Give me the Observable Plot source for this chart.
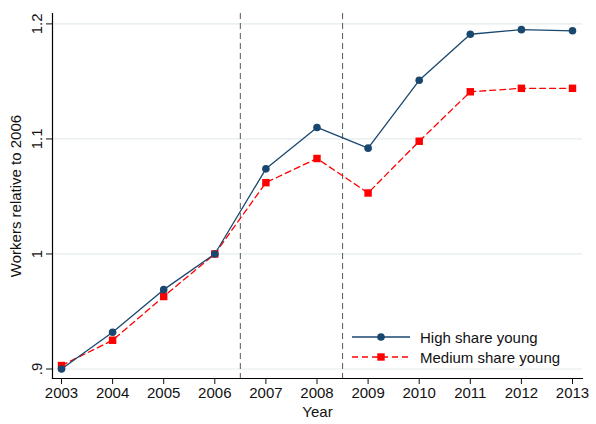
<!DOCTYPE html>
<html>
<head>
<meta charset="utf-8">
<script src="https://cdn.jsdelivr.net/npm/d3@7"></script>
<script src="https://cdn.jsdelivr.net/npm/@observablehq/plot@0.6"></script>
<style>
  body { margin: 0; background: #fff; }
  #chart { position: relative; width: 596px; height: 424px; font-family: "Liberation Sans", Arial, sans-serif; }
  .legend { position: absolute; left: 350px; top: 327px; font-size: 15px; color: #111; }
  .legend div { display: flex; align-items: center; height: 20px; }
  .legend svg { margin-right: 8px; }
</style>
</head>
<body>
<div id="chart"></div>
<script>
const years = [2003, 2004, 2005, 2006, 2007, 2008, 2009, 2010, 2011, 2012, 2013];
const highYoung = [0.900, 0.932, 0.969, 1.000, 1.074, 1.110, 1.092, 1.151, 1.191, 1.195, 1.194];
const mediumYoung = [0.903, 0.925, 0.963, 1.000, 1.062, 1.083, 1.053, 1.098, 1.141, 1.144, 1.144];
const yTicks = [0.9, 1, 1.1, 1.2];
const breaks = [2006.5, 2008.5];
const seriesNames = ["High share young", "Medium share young"];

const navy = "#1a476f";
const red = "#ff0000";

const high = years.map((y, i) => ({year: y, value: highYoung[i]}));
const medium = years.map((y, i) => ({year: y, value: mediumYoung[i]}));

const chart = Plot.plot({
  width: 596,
  height: 424,
  marginLeft: 52,
  marginRight: 14,
  marginTop: 13,
  marginBottom: 46,
  style: {fontFamily: "Liberation Sans, Arial, sans-serif", fontSize: "15px", color: "#111"},
  x: {domain: [2003, 2013], range: [61, 572]},
  y: {domain: [0.9, 1.2], range: [368.5, 23.4]},
  marks: [
    Plot.gridY(yTicks, {stroke: "#e3ecec", strokeOpacity: 1, strokeWidth: 1.2}),
    Plot.ruleX(breaks, {stroke: "#666", strokeDasharray: "6,4", strokeWidth: 1.1}),
    Plot.frame({anchor: "left", stroke: "#000", strokeWidth: 1.2}),
    Plot.frame({anchor: "bottom", stroke: "#000", strokeWidth: 1.2}),
    Plot.axisY(yTicks, {
      tickSize: 6, tickFormat: d => d === 0.9 ? ".9" : String(d),
      tickRotate: -90, tickPadding: 5,
      label: "Workers relative to 2006", labelAnchor: "center", labelArrow: "none", labelOffset: 42
    }),
    Plot.axisX(years, {
      tickSize: 6, tickFormat: d => String(d), tickPadding: 3,
      label: "Year", labelAnchor: "center", labelArrow: "none", labelOffset: 38
    }),
    Plot.line(medium, {x: "year", y: "value", stroke: red, strokeWidth: 1.3, strokeDasharray: "6,4"}),
    Plot.line(high, {x: "year", y: "value", stroke: navy, strokeWidth: 1.3}),
    Plot.dot(medium, {x: "year", y: "value", symbol: "square", r: 4.2, fill: red}),
    Plot.dot(high, {x: "year", y: "value", r: 3.8, fill: navy})
  ]
});

const wrap = document.getElementById("chart");
wrap.append(chart);

const legend = document.createElement("div");
legend.className = "legend";
legend.innerHTML = `
  <div><svg width="62" height="10"><line x1="2" x2="60" y1="5" y2="5" stroke="${navy}" stroke-width="1.3"/><circle cx="31" cy="5" r="3.8" fill="${navy}"/></svg>${seriesNames[0]}</div>
  <div><svg width="62" height="10"><line x1="2" x2="60" y1="5" y2="5" stroke="${red}" stroke-width="1.3" stroke-dasharray="6,4"/><rect x="27.3" y="1.3" width="7.4" height="7.4" fill="${red}"/></svg>${seriesNames[1]}</div>`;
wrap.append(legend);
</script>
</body>
</html>
